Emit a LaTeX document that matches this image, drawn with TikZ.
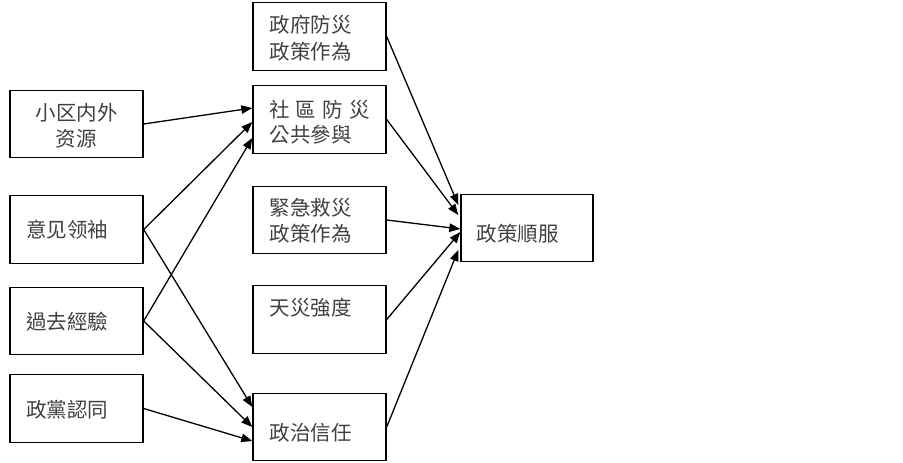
\documentclass[tikz,border=0pt]{standalone}
\usepackage{fontspec}
\setmainfont{Noto Sans CJK TC}
\usetikzlibrary{arrows.meta}
\begin{document}
\begin{tikzpicture}[x=1pt,y=-1pt,
  box/.style={draw=black,line width=1.4pt,minimum width=133pt,minimum height=67.5pt,inner sep=0pt},
  txt/.style={inner sep=0pt,text=black!75,font=\fontsize{20.5pt}{26pt}\selectfont},
  arr/.style={line width=1.3pt,-{Triangle[length=11pt,width=8.5pt]}}]
\useasboundingbox (0,0) rectangle (903,463);
% left column
\node[box] (L1) at (76.5,124) {};
\node[box] (L2) at (76.5,229.5) {};
\node[box] (L3) at (76.5,321) {};
\node[box] (L4) at (76.5,408.5) {};
% middle column
\node[box] (M1) at (319.5,36.5) {};
\node[box] (M2) at (319.5,119.5) {};
\node[box] (M3) at (319.5,220) {};
\node[box] (M4) at (319.5,319.5) {};
\node[box] (M5) at (319.5,427) {};
% right
\node[box,minimum width=132pt] (R) at (527,228) {};
% texts
\node[txt,align=center] (tL1) at ([yshift=-1.5pt]L1.center) {小区内外\\资源};
\node[txt,anchor=west] (tL2) at ([xshift=17pt]L2.west) {意见领袖};
\node[txt,anchor=west] (tL3) at ([xshift=17pt,yshift=-1pt]L3.west) {過去經驗};
\node[txt,anchor=west] (tL4) at ([xshift=17pt,yshift=-1.5pt]L4.west) {政黨認同};
\node[txt,anchor=west,align=left,font=\fontsize{20.5pt}{27pt}\selectfont] (tM1) at ([xshift=17pt,yshift=-2pt]M1.west) {政府防災\\政策作為};
\node[txt,anchor=west,align=left,font=\fontsize{20.5pt}{25pt}\selectfont] (tM2) at ([xshift=17pt,yshift=-3pt]M2.west) {社\hspace{6pt}區\hspace{6pt}防\hspace{6pt}災\\公共參與};
\node[txt,anchor=west,align=left] (tM3) at ([xshift=17pt,yshift=-1pt]M3.west) {緊急救災\\政策作為};
\node[txt,anchor=west] (tM4) at ([xshift=17pt,yshift=11.5pt]M4.west) {天災強度};
\node[txt,anchor=west] (tM5) at ([xshift=17pt,yshift=-6pt]M5.west) {政治信任};
\node[txt,anchor=west] (tR) at ([xshift=16pt,yshift=-6pt]R.west) {政策順服};
% arrows left -> middle
\draw[arr] (L1.east) -- ([yshift=11.5pt]M2.west);
\draw[arr] (L2.east) -- ([yshift=-2.5pt]M2.west);
\draw[arr] (L3.east) -- ([yshift=-18.5pt]M2.west);
\draw[arr] (L2.east) -- ([yshift=20pt]M5.west);
\draw[arr] (L3.east) -- (M5.west);
\draw[arr] (L4.east) -- ([yshift=-14pt]M5.west);
% arrows middle -> right
\draw[arr] (M1.east) -- ([xshift=-2pt,yshift=23pt]R.west);
\draw[arr] (M2.east) -- ([xshift=-2pt,yshift=13pt]R.west);
\draw[arr] (M3.east) -- ([yshift=-1pt]R.west);
\draw[arr] (M4.east) -- ([yshift=-4pt]R.west);
\draw[arr] (M5.east) -- ([xshift=-2pt,yshift=-22pt]R.west);
\end{tikzpicture}
\end{document}
